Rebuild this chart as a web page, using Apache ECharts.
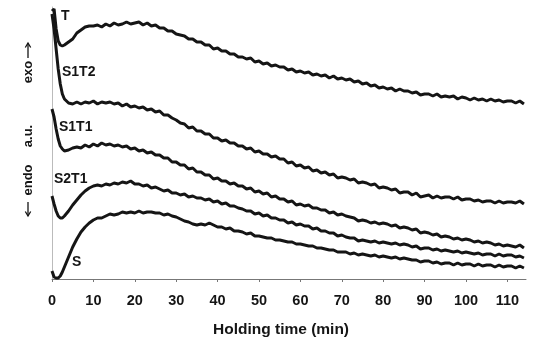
<!DOCTYPE html>
<html>
<head>
<meta charset="utf-8">
<script src="https://cdn.jsdelivr.net/npm/echarts@6/dist/echarts.min.js"></script>
<style>
  html, body { margin: 0; padding: 0; background: #fff; }
  #chart { width: 535px; height: 339px; }
</style>
</head>
<body>
<div id="chart"></div>
<script>
// holding time (min)
const holdTime = [0,0.5,1,1.5,2,2.5,3,
  4,5,6,7,8,9,10,11,12,13,14,15,16,17,18,19,20,21,22,23,24,25,26,27,28,29,30,
  31,32,33,34,35,36,37,38,39,40,41,42,43,44,45,46,47,48,49,50,51,52,53,54,55,56,57,58,59,60,
  61,62,63,64,65,66,67,68,69,70,71,72,73,74,75,76,77,78,79,80,81,82,83,84,85,86,87,88,89,90,
  91,92,93,94,95,96,97,98,99,100,101,102,103,104,105,106,107,108,109,110,111,112,113,114];

// heat flow, arbitrary units (curves are offset vertically)
const seriesT = [268,270,250,238,234,233,234,
  237,240,246,249,252,253,253,
  254,252,255,253,256,254,255,257,255,256,
  257,254,256,253,254,251,251,248,248,245,
  244,243,240,240,237,237,234,234,230,231,
  228,228,225,225,222,222,220,221,217,218,
  215,216,213,214,212,212,209,210,207,208,
  206,207,204,205,203,204,201,203,200,201,
  199,200,197,198,195,196,193,194,191,192,
  190,191,188,190,188,188,186,187,184,185,
  185,183,185,182,183,182,183,180,182,181,
  179,181,179,180,178,180,178,179,177,178,
  178,176,178,175];

const seriesS1T2 = [265,250,230,210,195,185,180,
  176,175,177,175,177,176,178,
  175,177,176,177,175,176,173,175,172,173,
  171,172,169,170,167,168,164,164,161,159,
  156,155,151,152,148,148,145,145,141,141,
  138,139,136,136,133,133,130,131,127,128,
  125,125,122,123,120,120,116,117,113,114,
  111,112,108,109,106,107,104,105,101,102,
  101,99,100,96,97,96,94,95,91,92,
  91,89,90,86,87,87,84,86,82,83,
  84,81,83,81,82,82,80,82,79,80,
  80,78,79,77,78,78,76,78,76,77,
  77,76,78,75];

const seriesS1T1 = [170,162,150,140,133,130,128,
  129,131,132,131,134,132,135,
  133,136,134,135,133,134,132,133,130,131,
  128,129,126,127,124,124,121,121,117,117,
  114,114,110,111,107,107,104,104,100,101,
  98,98,95,96,93,93,90,91,87,88,
  85,86,82,83,80,80,77,78,74,75,
  73,74,71,71,69,69,66,67,64,65,
  63,62,61,58,59,58,56,57,55,56,
  55,53,54,51,52,51,49,50,46,47,
  46,44,45,42,43,42,40,41,39,40,
  39,37,38,36,37,36,34,35,33,34,
  33,32,34,31];

const seriesS2T1 = [83,75,68,63,61,61,63,
  68,74,79,84,88,91,93,
  94,93,95,94,96,95,97,96,98,95,
  95,93,94,91,92,90,88,89,86,86,
  84,85,82,83,81,81,79,80,77,78,
  75,76,73,73,71,70,68,68,65,66,
  63,64,61,61,59,59,56,57,54,55,
  53,53,50,51,48,48,46,46,43,44,
  42,41,41,38,39,38,37,38,36,37,
  36,35,36,34,35,34,32,33,30,31,
  31,29,30,28,29,28,27,28,26,27,
  26,25,26,24,25,25,23,25,23,24,
  24,22,23,21];

const seriesS = [8,2,1,1,3,7,12,
  22,32,40,47,52,56,59,
  61,61,63,65,64,65,67,66,67,66,
  68,66,67,67,66,66,64,65,63,62,
  60,58,57,55,54,55,54,56,54,52,
  52,50,51,48,48,47,45,46,43,43,
  42,41,41,39,39,38,37,37,35,35,
  34,33,33,31,31,30,29,29,27,27,
  27,25,26,24,25,24,23,24,22,23,
  22,21,22,20,21,20,19,19,17,18,
  18,16,17,15,16,16,14,16,14,15,
  15,13,15,13,14,14,12,14,12,13,
  13,11,13,11];

const curveNames = ['T', 'S1T2', 'S1T1', 'S2T1', 'S'];
const curveValues = [seriesT, seriesS1T2, seriesS1T1, seriesS2T1, seriesS];

const font = 'Liberation Sans, Arial, Helvetica, sans-serif';
const ink = '#151515';

const chart = echarts.init(document.getElementById('chart'));

const series = curveNames.map((name, i) => ({
  name: name,
  type: 'line',
  showSymbol: false,
  symbol: 'none',
  smooth: false,
  lineStyle: { color: ink, width: 3 },
  data: holdTime.map((t, k) => [t, curveValues[i][k]])
}));

const labelText = (text, x, y) => ({
  type: 'text', left: x, top: y,
  style: { text: text, fill: ink, font: 'bold 14px ' + font }
});

const yNameText = (text, y) => ({
  type: 'text', x: 28, y: y, rotation: Math.PI / 2,
  style: { text: text, fill: ink, font: 'bold 13px ' + font, align: 'center', verticalAlign: 'middle' }
});

// thin arrows of the y axis name (exo up, endo down)
const arrow = (y0, y1) => {
  const dir = y1 < y0 ? 1 : -1;
  return [
    { type: 'line', shape: { x1: 28, y1: y0, x2: 28, y2: y1 }, style: { stroke: ink, lineWidth: 1.3 } },
    { type: 'polyline', shape: { points: [[25.3, y1 + dir * 4.5], [28, y1], [30.7, y1 + dir * 4.5]] },
      style: { stroke: ink, lineWidth: 1.3, fill: null } }
  ];
};

chart.setOption({
  animation: false,
  backgroundColor: '#fff',
  grid: { left: 52, right: 9, top: 7, bottom: 60 },
  xAxis: {
    type: 'value',
    min: 0,
    max: 114.5,
    interval: 10,
    axisLine: { show: true, lineStyle: { color: '#777', width: 1 } },
    axisTick: { show: true, length: 3, lineStyle: { color: '#777' } },
    axisLabel: {
      color: ink, fontFamily: font, fontWeight: 'bold', fontSize: 14.5, margin: 14,
      showMaxLabel: false
    },
    splitLine: { show: false }
  },
  yAxis: {
    type: 'value',
    min: 0,
    max: 272,
    axisLine: { show: true, lineStyle: { color: '#bbb', width: 1 } },
    axisTick: { show: false },
    axisLabel: { show: false },
    splitLine: { show: false }
  },
  series: series,
  graphic: [
    labelText('T', 61, 9),
    labelText('S1T2', 62, 65),
    labelText('S1T1', 59, 120),
    labelText('S2T1', 54, 172),
    labelText('S', 72, 255),
    yNameText('exo', 72),
    yNameText('a.u.', 136),
    yNameText('endo', 180),
    ...arrow(58, 43),
    ...arrow(202, 216),
    {
      type: 'text', x: 281, y: 330,
      style: { text: 'Holding time (min)', fill: ink, font: 'bold 15.5px ' + font, align: 'center', verticalAlign: 'middle' }
    }
  ]
});
</script>
</body>
</html>
